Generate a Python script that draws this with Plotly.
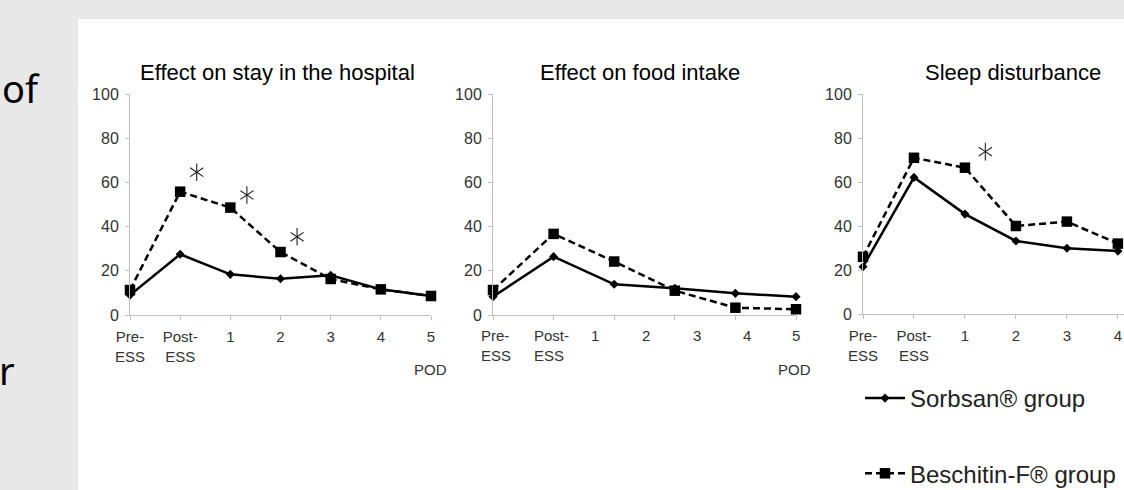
import plotly.graph_objects as go

# ---------------- data ----------------
stay_labels = ["Pre-<br>ESS", "Post-<br>ESS", "1", "2", "3", "4", "5"]
stay_sorbsan = [9.0, 27.5, 18.4, 16.4, 18.0, 11.6, 8.6]
stay_beschitin = [11.3, 55.8, 48.6, 28.5, 16.3, 11.6, 8.6]
stay_sig_x = [1.33, 2.33, 3.33]
stay_sig_y = [64.6, 54.3, 35.4]

food_labels = ["Pre-<br>ESS", "Post-<br>ESS", "1", "2", "3", "4", "5"]
food_sorbsan = [8.3, 26.4, 13.9, 12.1, 9.8, 8.3]
food_beschitin = [11.3, 36.7, 24.2, 11.0, 3.3, 2.6]

sleep_labels = ["Pre-<br>ESS", "Post-<br>ESS", "1", "2", "3", "4"]
sleep_sorbsan = [21.5, 62.1, 45.4, 33.2, 29.9, 28.6]
sleep_beschitin = [26.0, 71.0, 66.5, 40.0, 42.0, 32.0]
sleep_sig_x = [2.4]
sleep_sig_y = [73.8]

titles = ["Effect on stay in the hospital", "Effect on food intake", "Sleep disturbance"]
series_names = ["Sorbsan\u00ae group", "Beschitin-F\u00ae group"]
y_ticks = [0, 20, 40, 60, 80, 100]

# ---------------- layout helpers ----------------
W, H = 1124, 490
def fx(px):
    return px / W
def fy(py):
    return 1 - py / H

FONT = "Liberation Sans, Arial, sans-serif"
AXC = "#bfbfbf"
TXC = "#333333"
# label positions (layout) for the middle panel, whose labels sit offset from its ticks
food_label_pos = [0.05, 0.97, 1.68, 2.53, 3.36, 4.19, 5.0]

fig = go.Figure()

def add_pair(xa, ya, s_vals, b_vals, show):
    xs = list(range(len(s_vals)))
    xb = list(range(len(b_vals)))
    fig.add_trace(go.Scatter(
        x=xs, y=s_vals, xaxis=xa, yaxis=ya, mode="lines+markers",
        name=series_names[0], legendgroup="s", showlegend=show,
        line=dict(color="black", width=2.5),
        marker=dict(symbol="diamond", size=7, color="black"),
        cliponaxis=False, hoverinfo="skip"))
    fig.add_trace(go.Scatter(
        x=xb, y=b_vals, xaxis=xa, yaxis=ya, mode="lines+markers",
        name=series_names[1], legendgroup="b", showlegend=show,
        line=dict(color="black", width=2.5, dash="7px,4px"),
        marker=dict(symbol="square", size=10.5, color="black"),
        cliponaxis=False, hoverinfo="skip"))

def add_sig(xa, ya, sx, sy):
    for sym in ["y-up-open", "y-down-open"]:
        fig.add_trace(go.Scatter(
            x=sx, y=sy, xaxis=xa, yaxis=ya, mode="markers", showlegend=False,
            marker=dict(symbol=sym, size=11, color="#222222",
                        line=dict(width=1.1, color="#222222")),
            cliponaxis=False, hoverinfo="skip"))

add_pair("x", "y", stay_sorbsan, stay_beschitin, True)
add_sig("x", "y", stay_sig_x, stay_sig_y)
add_pair("x2", "y2", food_sorbsan, food_beschitin, False)
add_pair("x3", "y3", sleep_sorbsan, sleep_beschitin, False)
add_sig("x3", "y3", sleep_sig_x, sleep_sig_y)

common_x = dict(showline=True, linecolor=AXC, linewidth=1, ticks="outside",
                ticklen=4, tickcolor=AXC, showgrid=False, zeroline=False,
                tickfont=dict(family=FONT, size=15, color=TXC),
                ticklabelstandoff=4, fixedrange=True)
common_y = dict(showline=True, linecolor=AXC, linewidth=1, ticks="outside",
                ticklen=4, tickcolor=AXC, showgrid=False, zeroline=False,
                range=[0, 100], tickvals=y_ticks,
                tickfont=dict(family=FONT, size=16, color=TXC),
                ticklabelstandoff=3, fixedrange=True)

fig.update_layout(
    width=W, height=H,
    margin=dict(l=0, r=0, t=0, b=0, pad=0, autoexpand=False),
    paper_bgcolor="#e8e8e8", plot_bgcolor="rgba(0,0,0,0)",
    font=dict(family=FONT, color="black"),
    xaxis=dict(common_x, domain=[fx(130), fx(431)], range=[0, len(stay_labels) - 1],
               tickvals=list(range(len(stay_labels))), ticktext=stay_labels, anchor="y"),
    yaxis=dict(common_y, domain=[fy(315), fy(94)], anchor="x"),
    xaxis2=dict(common_x, domain=[fx(493), fx(796)], range=[0, len(food_sorbsan) - 1],
                tickvals=list(range(len(food_sorbsan))), showticklabels=False, anchor="y2"),
    yaxis2=dict(common_y, domain=[fy(315), fy(94)], anchor="x2"),
    xaxis3=dict(common_x, domain=[fx(863), 1.0], range=[0, 5.12],
                tickvals=list(range(len(sleep_labels))), ticktext=sleep_labels,
                ticklabeloverflow="allow", anchor="y3"),
    yaxis3=dict(common_y, domain=[fy(314), fy(94)], anchor="x3"),
    showlegend=True,
    legend=dict(x=fx(860), xanchor="left", y=fy(376), yanchor="top",
                font=dict(family=FONT, size=24, color="#222222"),
                tracegroupgap=41, bgcolor="rgba(0,0,0,0)", itemwidth=40),
    shapes=[dict(type="rect", xref="paper", yref="paper", x0=fx(78), x1=1.0,
                 y0=0, y1=fy(19), fillcolor="white", line=dict(width=0), layer="below")],
)

ann = []
for t, cx in zip(titles, [277, 640, 1013]):
    ann.append(dict(text=t, x=fx(cx), y=fy(72), xref="paper", yref="paper",
                    xanchor="center", yanchor="middle", showarrow=False,
                    font=dict(family=FONT, size=22, color="black")))
for pos, lab in zip(food_label_pos, food_labels):
    ann.append(dict(text=lab, x=pos, y=fy(325), xref="x2", yref="paper",
                    xanchor="center", yanchor="top", align="left", showarrow=False,
                    font=dict(family=FONT, size=15, color=TXC)))
for cx in [430, 794]:
    ann.append(dict(text="POD", x=fx(cx), y=fy(369), xref="paper", yref="paper",
                    xanchor="center", yanchor="middle", showarrow=False,
                    font=dict(family=FONT, size=15, color=TXC)))
ann.append(dict(text="of", x=0, y=fy(88), xref="paper", yref="paper",
                xanchor="left", yanchor="middle", showarrow=False,
                font=dict(family="Noto Sans, sans-serif", size=38, color="black")))
ann.append(dict(text="r", x=fx(17), y=fy(370), xref="paper", yref="paper",
                xanchor="right", yanchor="middle", showarrow=False,
                font=dict(family="Noto Sans, sans-serif", size=38, color="black")))
fig.update_layout(annotations=ann)

fig.write_html("out.html", config={"displayModeBar": False},
               post_script="document.body.style.margin='0';document.body.style.overflow='hidden';")
